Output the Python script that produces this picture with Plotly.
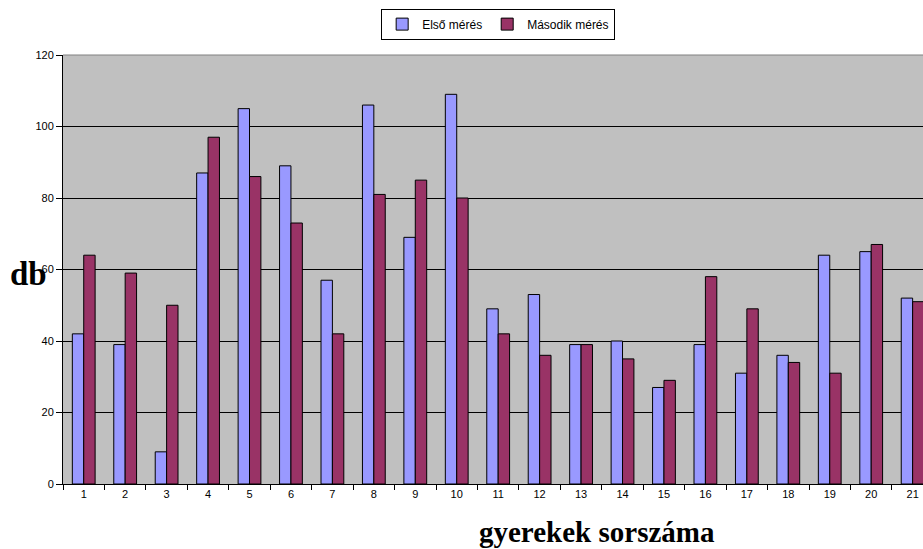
import plotly.graph_objects as go

categories = [str(i) for i in range(1, 22)]
elso = [42, 39, 9, 87, 105, 89, 57, 106, 69, 109, 49, 53, 39, 40, 27, 39, 31, 36, 64, 65, 52]
masodik = [64, 59, 50, 97, 86, 73, 42, 81, 85, 80, 42, 36, 39, 35, 29, 58, 49, 34, 31, 67, 51]
y_ticks = [0, 20, 40, 60, 80, 100, 120]

fig = go.Figure()
fig.add_trace(go.Bar(x=categories, y=elso, name="Első mérés",
                     marker=dict(color="#9999FF", line=dict(color="black", width=1))))
fig.add_trace(go.Bar(x=categories, y=masodik, name="Második mérés",
                     marker=dict(color="#993366", line=dict(color="black", width=1))))

fig.update_layout(
    width=923, height=549,
    margin=dict(l=63, r=0, t=55, b=65, autoexpand=False),
    paper_bgcolor="white",
    plot_bgcolor="#C0C0C0",
    barmode="group",
    bargap=0.45,
    bargroupgap=0,
    font=dict(family="Liberation Sans, Arial", size=11, color="black"),
    legend=dict(orientation="h", x=0.506, xanchor="center", y=1.072, yanchor="middle",
                bordercolor="black", borderwidth=1, bgcolor="white",
                font=dict(size=12), itemwidth=30, tracegroupgap=0),
    xaxis=dict(type="category", range=[-0.5, 20.25], tickson="boundaries",
               ticks="outside", ticklen=5, tickcolor="black",
               showline=True, linecolor="black", linewidth=1,
               showgrid=False, tickfont=dict(size=11)),
    yaxis=dict(range=[0, 120], tickvals=y_ticks, ticks="outside", ticklen=6,
               tickcolor="black", showline=True, linecolor="black", linewidth=1,
               showgrid=True, gridcolor="black", gridwidth=1, zeroline=False,
               tickfont=dict(size=11)),
    shapes=[dict(type="line", xref="paper", yref="paper", x0=0, x1=1, y0=1, y1=1,
                 line=dict(color="#808080", width=1))],
    annotations=[
        dict(text="<b>db</b>", xref="paper", yref="paper", x=-0.064, y=0.49,
             xanchor="left", yanchor="middle", showarrow=False,
             font=dict(family="Liberation Serif, Times New Roman", size=33, color="black")),
        dict(text="<b>gyerekek sorszáma</b>", xref="paper", yref="paper",
             x=(597 - 63) / 860, y=-0.112, xanchor="center", yanchor="middle",
             showarrow=False,
             font=dict(family="Liberation Serif, Times New Roman", size=29, color="black")),
    ],
)

fig.write_html("out.html", config={"displayModeBar": False},
               post_script="document.body.style.margin='0';document.body.style.overflow='hidden';")
